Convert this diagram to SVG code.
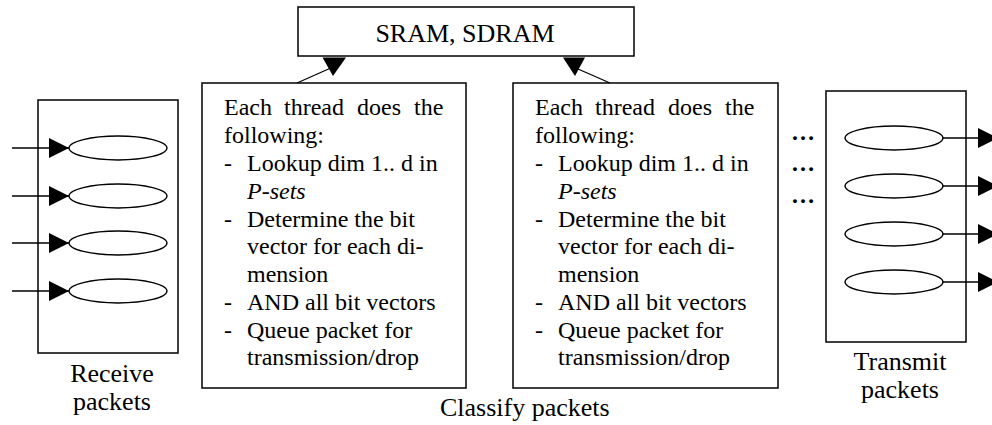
<svg xmlns="http://www.w3.org/2000/svg" width="992" height="425" viewBox="0 0 992 425">
<style>
.box{fill:#fff;stroke:#000;stroke-width:1.5}
.ell{fill:#fff;stroke:#000;stroke-width:1.3}
.ln{stroke:#000;stroke-width:1.3;fill:none}
.ah{fill:#000;stroke:none}
.tx{font-family:"Liberation Serif","Times New Roman",serif;fill:#000}
.it{font-style:italic}
</style>
<defs>
<marker id="arr" viewBox="0 0 20 20" refX="20" refY="10" markerWidth="20" markerHeight="20" markerUnits="userSpaceOnUse" orient="auto">
<path d="M0,0 L20,10 L0,20 Z" class="ah"/>
</marker>
</defs>

<g id="sram">
<rect class="box" x="298" y="7" width="336" height="49"/>
<text class="tx" font-family="Liberation Serif, serif" font-size="26" x="465" y="42" text-anchor="middle">SRAM, SDRAM</text>
</g>

<g id="receive">
<rect class="box" x="38" y="100" width="140" height="253"/>
<ellipse class="ell" cx="118" cy="148" rx="49" ry="12"/>
<ellipse class="ell" cx="118" cy="196" rx="49" ry="12"/>
<ellipse class="ell" cx="118" cy="243" rx="49" ry="12"/>
<ellipse class="ell" cx="118" cy="291" rx="49" ry="12"/>
<text class="tx" font-family="Liberation Serif, serif" font-size="26" x="112" y="382" text-anchor="middle">Receive</text>
<text class="tx" font-family="Liberation Serif, serif" font-size="26" x="112" y="410" text-anchor="middle">packets</text>
</g>

<g id="thread1" class="tx" font-family="Liberation Serif, serif" font-size="24">
<rect class="box" x="202" y="83" width="264" height="305"/>
<text y="115"><tspan x="224">Each</tspan><tspan x="284">thread</tspan><tspan x="357">does</tspan><tspan x="414">the</tspan></text>
<text x="224" y="143">following:</text>
<text x="224" y="171">-</text><text x="247" y="171">Lookup dim 1.. d in</text>
<text class="it" x="247" y="199">P-sets</text>
<text x="224" y="227">-</text><text x="247" y="227">Determine the bit</text>
<text x="247" y="254">vector for each di-</text>
<text x="247" y="282">mension</text>
<text x="224" y="310">-</text><text x="247" y="310">AND all bit vectors</text>
<text x="224" y="338">-</text><text x="247" y="338">Queue packet for</text>
<text x="247" y="365">transmission/drop</text>
</g>

<g id="thread2" class="tx" font-family="Liberation Serif, serif" font-size="24">
<rect class="box" x="513" y="83" width="265" height="305"/>
<text y="115"><tspan x="535">Each</tspan><tspan x="595">thread</tspan><tspan x="668">does</tspan><tspan x="725">the</tspan></text>
<text x="535" y="143">following:</text>
<text x="535" y="171">-</text><text x="558" y="171">Lookup dim 1.. d in</text>
<text class="it" x="558" y="199">P-sets</text>
<text x="535" y="227">-</text><text x="558" y="227">Determine the bit</text>
<text x="558" y="254">vector for each di-</text>
<text x="558" y="282">mension</text>
<text x="535" y="310">-</text><text x="558" y="310">AND all bit vectors</text>
<text x="535" y="338">-</text><text x="558" y="338">Queue packet for</text>
<text x="558" y="365">transmission/drop</text>
</g>

<g id="classify-label">
<text class="tx" font-family="Liberation Serif, serif" font-size="26" x="440" y="416">Classify packets</text>
</g>

<g id="dots" class="tx" font-family="Liberation Serif, serif" font-size="24" font-weight="bold">
<text x="803" y="140" text-anchor="middle">…</text>
<text x="803" y="171" text-anchor="middle">…</text>
<text x="803" y="203" text-anchor="middle">…</text>
</g>

<g id="transmit">
<rect class="box" x="826" y="91" width="140" height="251"/>
<ellipse class="ell" cx="894" cy="138" rx="49" ry="12"/>
<ellipse class="ell" cx="894" cy="186" rx="49" ry="12"/>
<ellipse class="ell" cx="894" cy="234" rx="49" ry="12"/>
<ellipse class="ell" cx="894" cy="282" rx="49" ry="12"/>
<text class="tx" font-family="Liberation Serif, serif" font-size="26" x="900" y="370" text-anchor="middle">Transmit</text>
<text class="tx" font-family="Liberation Serif, serif" font-size="26" x="900" y="398" text-anchor="middle">packets</text>
</g>

<g id="connectors">
<line class="ln" x1="12" y1="148" x2="69" y2="148" marker-end="url(#arr)"/>
<line class="ln" x1="12" y1="196" x2="69" y2="196" marker-end="url(#arr)"/>
<line class="ln" x1="12" y1="243" x2="69" y2="243" marker-end="url(#arr)"/>
<line class="ln" x1="12" y1="291" x2="69" y2="291" marker-end="url(#arr)"/>
<line class="ln" x1="943" y1="138" x2="998" y2="138" marker-end="url(#arr)"/>
<line class="ln" x1="943" y1="186" x2="998" y2="186" marker-end="url(#arr)"/>
<line class="ln" x1="943" y1="234" x2="998" y2="234" marker-end="url(#arr)"/>
<line class="ln" x1="943" y1="282" x2="998" y2="282" marker-end="url(#arr)"/>
<line class="ln" x1="297" y1="83" x2="333" y2="67"/>
<polygon class="ah" points="322.5,57.5 346,57.5 333,76"/>
<line class="ln" x1="610" y1="83" x2="578" y2="69"/>
<polygon class="ah" points="563,57.5 585,57.5 575,76"/>
</g>
</svg>
